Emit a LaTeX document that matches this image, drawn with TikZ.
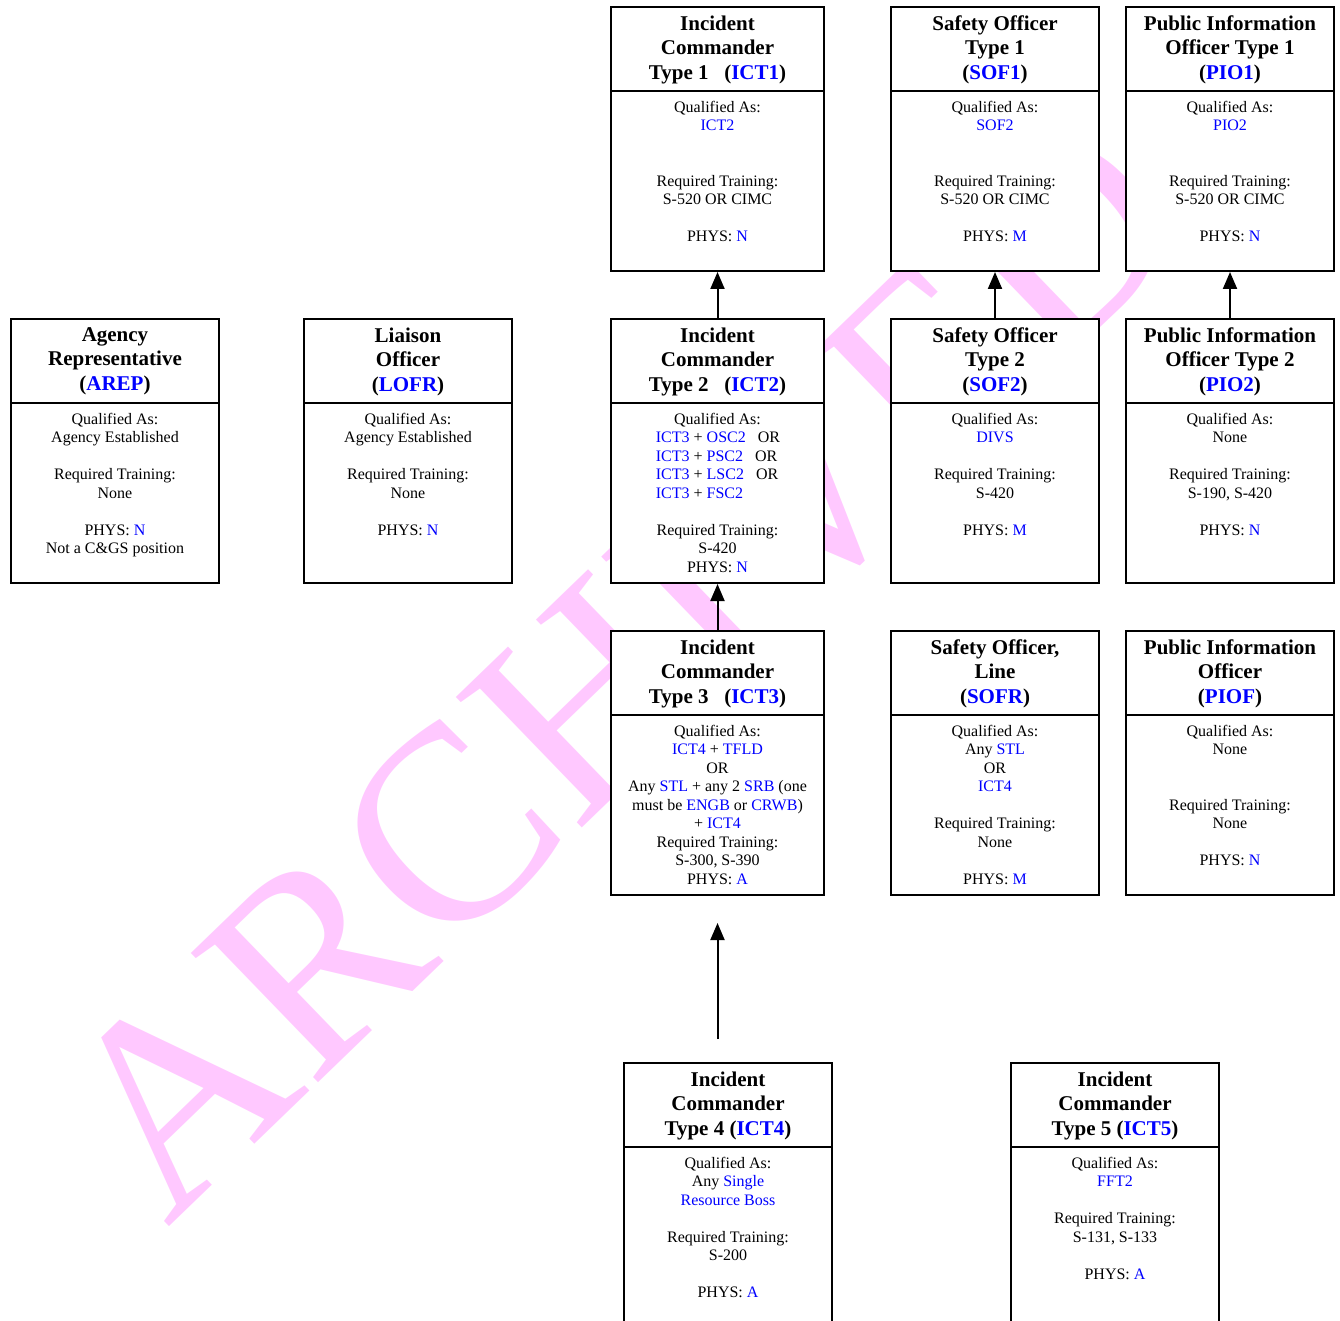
\documentclass[tikz,border=0pt]{standalone}
\usepackage{fontspec}
\setmainfont{Liberation Serif}
\usepackage{tikz}
\usetikzlibrary{arrows.meta, positioning}
\definecolor{stamppink}{RGB}{255,200,255}
\tikzset{%
  posbox/.style={rectangle, draw, fill=white, line width=2pt, minimum width=208pt, minimum height=264pt, inner sep=0pt,
    path picture={\draw[line width=2pt] ([yshift=-84pt]path picture bounding box.north west) -- ([yshift=-84pt]path picture bounding box.north east);}},
  widebox/.style={posbox, minimum width=213pt},
  head/.style={anchor=north, inner sep=0pt, yshift=-9.3pt, align=center, font=\fontsize{21}{24.5}\selectfont\bfseries},
  body/.style={anchor=north, inner sep=0pt, yshift=-94.6pt, align=center, font=\fontsize{16}{18.5}\selectfont},
  line/.style={draw, line width=2pt, -{Triangle[width=14pt, length=17pt]}},
  watermark/.style={rotate=44, inner sep=0pt, text=stamppink, font=\fontsize{277}{277}\selectfont}}

\begin{document}
\begin{tikzpicture}[x=1pt, y=-1pt]
    \useasboundingbox (0,0) rectangle (1340,1321);
    % Watermark behind the boxes
    \node (stamp) [watermark, anchor=base west] at (167,1229) {ARCHIVED};
    % Top row: Type 1 positions
    \node (ict1) [widebox] at (717.5,139) {};
    \node (ict1h) [head] at (ict1.north) {Incident\\ Commander\\ Type 1~~~(\textcolor{blue}{ICT1})};
    \node (ict1b) [body] at (ict1.north) {Qualified As:\\ \textcolor{blue}{ICT2}\\[37pt] Required Training:\\ S-520 OR CIMC\\[18.5pt] PHYS: \textcolor{blue}{N}};
    \node (sof1) [posbox] at (995,139) {};
    \node (sof1h) [head] at (sof1.north) {Safety Officer\\ Type 1\\ (\textcolor{blue}{SOF1})};
    \node (sof1b) [body] at (sof1.north) {Qualified As:\\ \textcolor{blue}{SOF2}\\[37pt] Required Training:\\ S-520 OR CIMC\\[18.5pt] PHYS: \textcolor{blue}{M}};
    \node (pio1) [posbox] at (1230,139) {};
    \node (pio1h) [head] at (pio1.north) {Public Information\\ Officer Type 1\\ (\textcolor{blue}{PIO1})};
    \node (pio1b) [body] at (pio1.north) {Qualified As:\\ \textcolor{blue}{PIO2}\\[37pt] Required Training:\\ S-520 OR CIMC\\[18.5pt] PHYS: \textcolor{blue}{N}};
    % Second row: Type 2 positions and command staff
    \node (arep) [posbox] at (115,451) {};
    \node (areph) [head] at (arep.north) {Agency\\ Representative\\ (\textcolor{blue}{AREP})};
    \node (arepb) [body] at (arep.north) {Qualified As:\\ Agency Established\\[18.5pt] Required Training:\\ None\\[18.5pt] PHYS: \textcolor{blue}{N}\\ Not a C\&GS position};
    \node (lofr) [posbox] at (408,451) {};
    \node (lofrh) [head] at (lofr.north) {Liaison\\ Officer\\ (\textcolor{blue}{LOFR})};
    \node (lofrb) [body] at (lofr.north) {Qualified As:\\ Agency Established\\[18.5pt] Required Training:\\ None\\[18.5pt] PHYS: \textcolor{blue}{N}};
    \node (ict2) [widebox] at (717.5,451) {};
    \node (ict2h) [head] at (ict2.north) {Incident\\ Commander\\ Type 2~~~(\textcolor{blue}{ICT2})};
    \node (ict2b) [body] at (ict2.north) {Qualified As:\\
      \makebox[7.7em][l]{\textcolor{blue}{ICT3} + \textcolor{blue}{OSC2}~~~OR}\\
      \makebox[7.7em][l]{\textcolor{blue}{ICT3} + \textcolor{blue}{PSC2}~~~OR}\\
      \makebox[7.7em][l]{\textcolor{blue}{ICT3} + \textcolor{blue}{LSC2}~~~OR}\\
      \makebox[7.7em][l]{\textcolor{blue}{ICT3} + \textcolor{blue}{FSC2}}\\[18.5pt]
      Required Training:\\ S-420\\ PHYS: \textcolor{blue}{N}};
    \node (sof2) [posbox] at (995,451) {};
    \node (sof2h) [head] at (sof2.north) {Safety Officer\\ Type 2\\ (\textcolor{blue}{SOF2})};
    \node (sof2b) [body] at (sof2.north) {Qualified As:\\ \textcolor{blue}{DIVS}\\[18.5pt] Required Training:\\ S-420\\[18.5pt] PHYS: \textcolor{blue}{M}};
    \node (pio2) [posbox] at (1230,451) {};
    \node (pio2h) [head] at (pio2.north) {Public Information\\ Officer Type 2\\ (\textcolor{blue}{PIO2})};
    \node (pio2b) [body] at (pio2.north) {Qualified As:\\ None\\[18.5pt] Required Training:\\ S-190, S-420\\[18.5pt] PHYS: \textcolor{blue}{N}};
    % Third row: Type 3 and line positions
    \node (ict3) [widebox] at (717.5,763) {};
    \node (ict3h) [head] at (ict3.north) {Incident\\ Commander\\ Type 3~~~(\textcolor{blue}{ICT3})};
    \node (ict3b) [body] at (ict3.north) {Qualified As:\\ \textcolor{blue}{ICT4} + \textcolor{blue}{TFLD}\\ OR\\
      Any \textcolor{blue}{STL} + any 2 \textcolor{blue}{SRB} (one\\ must be \textcolor{blue}{ENGB} or \textcolor{blue}{CRWB})\\ + \textcolor{blue}{ICT4}\\
      Required Training:\\ S-300, S-390\\ PHYS: \textcolor{blue}{A}};
    \node (sofr) [posbox] at (995,763) {};
    \node (sofrh) [head] at (sofr.north) {Safety Officer,\\ Line\\ (\textcolor{blue}{SOFR})};
    \node (sofrb) [body] at (sofr.north) {Qualified As:\\ Any \textcolor{blue}{STL}\\ OR\\ \textcolor{blue}{ICT4}\\[18.5pt] Required Training:\\ None\\[18.5pt] PHYS: \textcolor{blue}{M}};
    \node (piof) [posbox] at (1230,763) {};
    \node (piofh) [head] at (piof.north) {Public Information\\ Officer\\ (\textcolor{blue}{PIOF})};
    \node (piofb) [body] at (piof.north) {Qualified As:\\ None\\[37pt] Required Training:\\ None\\[18.5pt] PHYS: \textcolor{blue}{N}};
    % Bottom row: Type 4 and Type 5
    \node (ict4) [posbox] at (728,1195) {};
    \node (ict4h) [head] at (ict4.north) {Incident\\ Commander\\ Type 4 (\textcolor{blue}{ICT4})};
    \node (ict4b) [body] at (ict4.north) {Qualified As:\\ Any \textcolor{blue}{Single}\\ \textcolor{blue}{Resource Boss}\\[18.5pt] Required Training:\\ S-200\\[18.5pt] PHYS: \textcolor{blue}{A}};
    \node (ict5) [posbox] at (1115,1195) {};
    \node (ict5h) [head] at (ict5.north) {Incident\\ Commander\\ Type 5 (\textcolor{blue}{ICT5})};
    \node (ict5b) [body] at (ict5.north) {Qualified As:\\ \textcolor{blue}{FFT2}\\[18.5pt] Required Training:\\ S-131, S-133\\[18.5pt] PHYS: \textcolor{blue}{A}};
    % Arrows
    \draw[line] (ict2) -- (ict1);
    \draw[line] (sof2) -- (sof1);
    \draw[line] (pio2) -- (pio1);
    \draw[line] (ict3) -- (ict2);
    \draw[line, shorten <=23pt, shorten >=27pt] (ict3.south |- ict4.north) -- (ict3.south);
  \end{tikzpicture}
\end{document}
